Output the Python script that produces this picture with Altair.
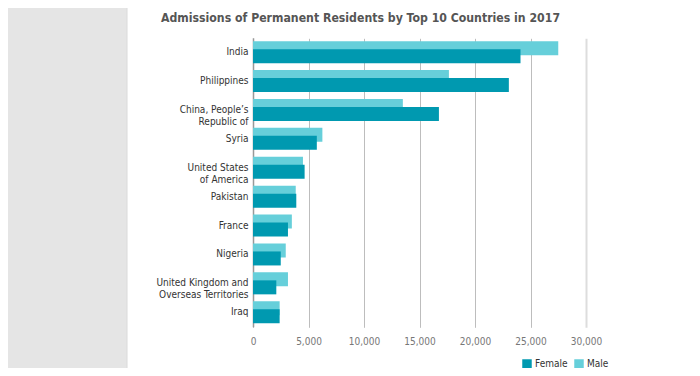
import altair as alt
import pandas as pd

title_text = ["Admissions of Permanent Residents by Top 10 Countries in 2017"]
countries = ["India", "Philippines", "China, People’s|Republic of", "Syria",
             "United States|of America", "Pakistan", "France", "Nigeria",
             "United Kingdom and|Overseas Territories", "Iraq"]
female = [24100, 23050, 16750, 5750, 4650, 3900, 3150, 2500, 2100, 2400]
male = [27500, 17650, 13500, 6250, 4500, 3850, 3500, 2950, 3150, 2400]
sexes = ["Female", "Male"]
colors = ["#0099b0", "#66cfda"]
x_ticks = [0, 5000, 10000, 15000, 20000, 25000, 30000]

rows = []
for c, f, m in zip(countries, female, male):
    rows.append({"country": c, "sex": "Female", "value": f})
    rows.append({"country": c, "sex": "Male", "value": m})
df = pd.DataFrame(rows)

FONT = "Liberation Sans Narrow, DejaVu Sans Condensed, sans-serif"

x = alt.X("value:Q",
          scale=alt.Scale(domain=[0, 30000], nice=False),
          axis=alt.Axis(title=None, values=x_ticks, format=",d", ticks=False,
                        domain=False, labelPadding=12, labelFontSize=10,
                        labelColor="#777", labelFont=FONT, labelFlush=False,
                        labelOverlap=False,
                        gridColor={"condition": {"test": "datum.value == 30000", "value": "#dddddd"}, "value": "#bdbdbd"},
                        gridWidth={"condition": {"test": "datum.value == 30000", "value": 2}, "value": 1}))
y = alt.Y("country:N", sort=countries,
          scale=alt.Scale(domain=countries, range=[-3.3, 285.7], paddingInner=0, paddingOuter=0),
          axis=alt.Axis(title=None, labelExpr="split(datum.label, '|')", ticks=False,
                        labelPadding=5, labelFontSize=10, labelColor="#333",
                        labelFont=FONT, labelLineHeight=12, grid=False,
                        domainColor="#999", domainWidth=1.5))
color = alt.Color("sex:N", scale=alt.Scale(domain=sexes, range=colors),
                  legend=alt.Legend(title=None, orient="none", direction="horizontal",
                                    legendX=269, legendY=318, symbolType="square",
                                    symbolSize=90, symbolStrokeWidth=0, labelFontSize=10,
                                    labelFont=FONT, labelColor="#333", columnPadding=6,
                                    labelOffset=3, padding=0))

panel = alt.Chart(alt.Data(values=[{}])).mark_rect(color="#e5e5e5").encode(
    x=alt.value(-245), x2=alt.value(-126), y=alt.value(-40), y2=alt.value(340))
edge = alt.Chart(alt.Data(values=[{}])).mark_rule(color="#dadada", strokeWidth=1).encode(
    x=alt.value(-126), y=alt.value(-40), y2=alt.value(340))

title = alt.Chart(pd.DataFrame({"t": title_text})).mark_text(
    align="left", baseline="alphabetic", fontSize=12.2, font=FONT,
    fontWeight="bold", color="#555").encode(
    text="t:N", x=alt.value(-92), y=alt.value(-19))

male_bars = alt.Chart(df).transform_filter("datum.sex == 'Male'").mark_bar(
    size=14, yOffset=-4).encode(x=x, y=y, color=color)
female_bars = alt.Chart(df).transform_filter("datum.sex == 'Female'").mark_bar(
    size=14, yOffset=4).encode(x=x, y=y, color=color)

chart = alt.layer(panel, edge, male_bars, female_bars, title).properties(
    width=333, height=283,
    background="white",
    autosize=alt.AutoSizeParams(type="none"),
    padding={"left": 245, "top": 33, "right": 100, "bottom": 44},
).configure_view(stroke=None)

chart.save("out.html", embed_options={"renderer": "svg", "actions": False})
